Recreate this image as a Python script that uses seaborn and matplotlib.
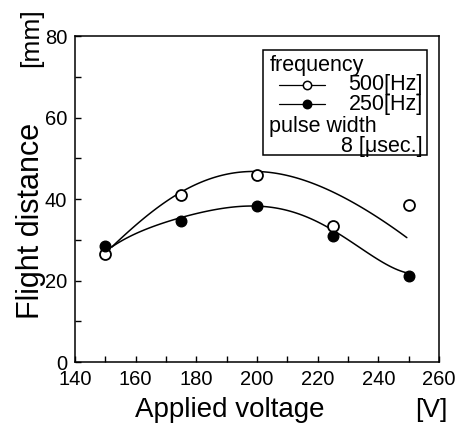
import numpy as np
import pandas as pd
import seaborn as sns
import matplotlib
matplotlib.use("Agg")
import matplotlib.pyplot as plt
from matplotlib.lines import Line2D
from matplotlib.patches import Rectangle

# Measured flight distance [mm] versus applied voltage [V]
voltage = [150, 175, 200, 225, 250]
dist_500hz = [26.5, 41.0, 46.0, 33.3, 38.5]
dist_250hz = [28.5, 34.7, 38.2, 31.0, 21.2]

# Hand-drawn trend curves, traced as (voltage, distance) pairs
trend_v_500 = [152.1, 159.2, 165.8, 174.1, 181.2, 190.0, 200.4, 205.4,
               214.2, 225.2, 236.2, 243.9, 249.4]
trend_500 = [28.1, 33.2, 37.3, 41.0, 43.9, 46.1, 46.9, 46.7,
             44.7, 41.4, 37.3, 33.6, 30.4]
trend_v_250 = [152.1, 159.2, 165.8, 175.2, 185.6, 195.5, 201.0, 209.8,
               218.6, 225.7, 236.2, 249.4]
trend_250 = [28.1, 31.4, 33.5, 35.0, 37.3, 38.4, 38.4, 37.3,
             34.8, 31.6, 27.3, 21.8]

x_ticks = [140, 160, 180, 200, 220, 240, 260]
y_ticks = [0, 20, 40, 60, 80]

sns.set_theme(style="ticks")
plt.rcParams["font.family"] = ["Liberation Sans", "DejaVu Sans"]
plt.rcParams["text.color"] = "black"
plt.rcParams["xtick.color"] = "black"
plt.rcParams["ytick.color"] = "black"
plt.rcParams["xtick.labelcolor"] = "black"
plt.rcParams["ytick.labelcolor"] = "black"

W, H = 465, 426
fig = plt.figure(figsize=(W / 100, H / 100), dpi=100)
ax = fig.add_axes([75 / W, 1 - 362 / H, (439 - 75) / W, (362 - 36) / H])

pts = pd.DataFrame({
    "voltage": voltage * 2,
    "distance": dist_500hz + dist_250hz,
    "freq": ["500"] * len(voltage) + ["250"] * len(voltage),
})
trend_a = pd.DataFrame({"voltage": trend_v_500, "distance": trend_500})
trend_b = pd.DataFrame({"voltage": trend_v_250, "distance": trend_250})

# Smooth polynomial curves through the traced trend points
line_kw = dict(color="black", lw=1.1)
for trend in (trend_a, trend_b):
    sns.regplot(data=trend, x="voltage", y="distance", order=5, ci=None,
                scatter=False, truncate=True, line_kws=line_kw, ax=ax)

sns.scatterplot(data=pts[pts.freq == "500"], x="voltage", y="distance",
                s=62, color="white", edgecolor="black", linewidth=1.3,
                zorder=3, ax=ax, legend=False)
sns.scatterplot(data=pts[pts.freq == "250"], x="voltage", y="distance",
                s=58, color="black", edgecolor="black", linewidth=1.0,
                zorder=4, ax=ax, legend=False)

ax.set_xlim(140, 260)
ax.set_ylim(0, 80)
ax.set_xticks(x_ticks)
ax.set_yticks(y_ticks)
ax.set_xticks(np.arange(150, 260, 20), minor=True)
ax.set_yticks(np.arange(10, 80, 20), minor=True)
ax.set_xlabel("")
ax.set_ylabel("")
for side in ["top", "right", "left", "bottom"]:
    ax.spines[side].set_visible(True)
    ax.spines[side].set_linewidth(1.1)
    ax.spines[side].set_color("black")
ax.tick_params(which="both", direction="in", length=4, width=1.0,
               color="black", top=False, right=False)
ax.tick_params(axis="x", which="major", labelsize=14.5, pad=5.5)
ax.tick_params(axis="y", which="major", labelsize=14.5, pad=5.5)

# Legend box with frequency and pulse width notes
tr = ax.transAxes
ax.add_patch(Rectangle((0.5157, 0.635), 0.966 - 0.5157, 0.957 - 0.635,
                       transform=tr, fill=True, facecolor="white",
                       edgecolor="black", lw=1.1, zorder=5))
fs = 15.5
ax.text(0.536, 0.911, "frequency", transform=tr, fontsize=fs,
        ha="left", va="center", zorder=6)
for yy, face, lab in [(0.8497, "white", "500[Hz]"), (0.791, "black", "250[Hz]")]:
    ax.add_line(Line2D([0.560, 0.687], [yy, yy], transform=tr, color="black",
                       lw=0.9, zorder=6))
    ax.add_line(Line2D([0.6365], [yy], transform=tr, marker="o", ms=6,
                       mfc=face, mec="black", mew=1.1, ls="none", zorder=7))
    ax.text(0.956, yy, lab, transform=tr, fontsize=fs, ha="right",
            va="center", zorder=6)
ax.text(0.533, 0.721, "pulse width", transform=tr, fontsize=fs,
        ha="left", va="center", zorder=6)
ax.text(0.956, 0.660, "8 [\u03bcsec.]", transform=tr, fontsize=fs,
        ha="right", va="center", zorder=6)

# Axis titles and units
fig.text(39 / W, 1 - 221 / H, "Flight distance", rotation=90,
         rotation_mode="anchor", ha="center", va="baseline", fontsize=22)
fig.text(38 / W, 1 - 37.5 / H, "[mm]", rotation=90,
         rotation_mode="anchor", ha="center", va="baseline", fontsize=19)
fig.text(135 / W, 1 - 417 / H, "Applied voltage", ha="left",
         va="baseline", fontsize=20)
fig.text(431 / W, 1 - 417 / H, "[V]", ha="center", va="baseline",
         fontsize=19)

fig.savefig("out.png", dpi=100, facecolor="white")
